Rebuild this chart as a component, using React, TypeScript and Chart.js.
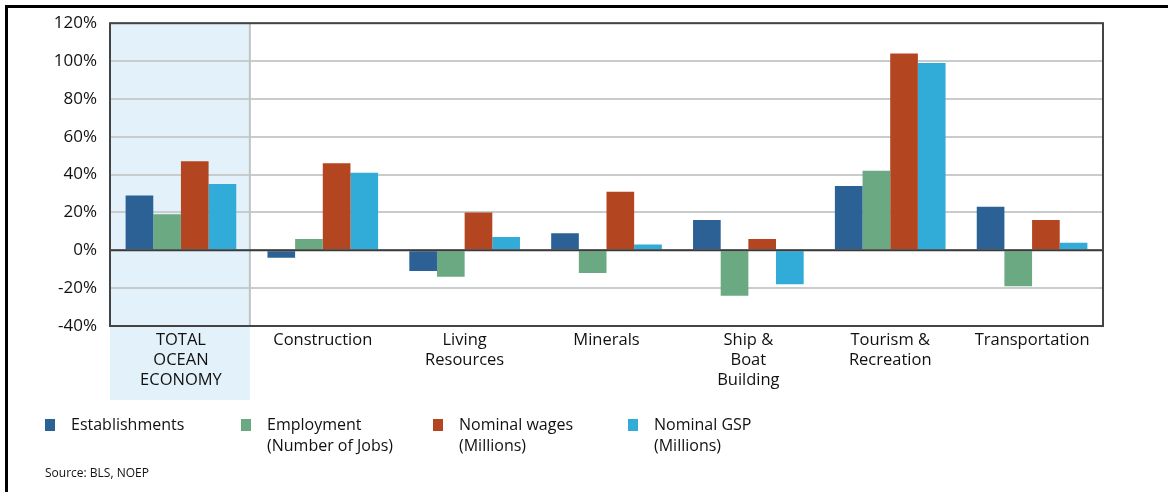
import React, { useEffect, useRef } from "react";
import { Chart, registerables } from "chart.js";

Chart.register(...registerables);

const categories: (string | string[])[] = [
  ["TOTAL", "OCEAN", "ECONOMY"],
  "Construction",
  ["Living", "Resources"],
  "Minerals",
  ["Ship &", "Boat", "Building"],
  ["Tourism &", "Recreation"],
  "Transportation",
];

const establishments = [29, -4, -11, 9, 16, 34, 23];
const employment = [19, 6, -14, -12, -24, 42, -19];
const nominalWages = [47, 46, 20, 31, 6, 104, 16];
const nominalGSP = [35, 41, 7, 3, -18, 99, 4];

const seriesLabels: string[][] = [
  ["Establishments"],
  ["Employment", "(Number of Jobs)"],
  ["Nominal wages", "(Millions)"],
  ["Nominal GSP", "(Millions)"],
];
const seriesColors = ["#2C6196", "#6AA982", "#B34521", "#31ABD8"];

const yMin = -40;
const yMax = 120;
const yStep = 20;

const FONT = "'Open Sans', 'Noto Sans', sans-serif";

const shadePlugin = {
  id: "shade",
  beforeDraw(chart: any) {
    const { ctx, chartArea } = chart;
    const w = (chartArea.right - chartArea.left) / categories.length;
    ctx.save();
    ctx.fillStyle = "#E3F2FA";
    ctx.fillRect(chartArea.left, chartArea.top, w - 2, chartArea.bottom - chartArea.top + 74);
    ctx.restore();
  },
  beforeDatasetsDraw(chart: any) {
    const { ctx, chartArea } = chart;
    const w = (chartArea.right - chartArea.left) / categories.length;
    ctx.save();
    ctx.strokeStyle = "#BFC3C4";
    ctx.lineWidth = 2;
    ctx.beginPath();
    ctx.moveTo(chartArea.left + w - 2, chartArea.top);
    ctx.lineTo(chartArea.left + w - 2, chartArea.bottom);
    ctx.stroke();
    ctx.restore();
  },
  afterDatasetsDraw(chart: any) {
    const { ctx, chartArea, scales } = chart;
    const y0 = scales.y.getPixelForValue(0);
    ctx.save();
    ctx.strokeStyle = "#3A3A3A";
    ctx.lineWidth = 2;
    ctx.beginPath();
    ctx.moveTo(chartArea.left, y0);
    ctx.lineTo(chartArea.right, y0);
    ctx.stroke();
    ctx.strokeStyle = "#444444";
    ctx.strokeRect(chartArea.left, chartArea.top, chartArea.right - chartArea.left, chartArea.bottom - chartArea.top);
    ctx.restore();
  },
};

export default function App() {
  const ref = useRef<HTMLCanvasElement | null>(null);

  useEffect(() => {
    if (!ref.current) return;
    const data = [establishments, employment, nominalWages, nominalGSP];
    const chart = new Chart(ref.current, {
      type: "bar",
      data: {
        labels: categories,
        datasets: data.map((d, i) => ({
          label: seriesLabels[i].join(" "),
          data: d,
          backgroundColor: seriesColors[i],
          borderWidth: 0,
          categoryPercentage: 0.78,
          barPercentage: 1.0,
        })),
      },
      options: {
        animation: false,
        responsive: false,
        maintainAspectRatio: false,
        layout: { padding: { top: 18, right: 65, left: 0, bottom: 0 } },
        plugins: {
          legend: { display: false },
          tooltip: { enabled: false },
          title: { display: false },
        },
        scales: {
          x: {
            grid: { display: false, drawTicks: false },
            border: { display: false },
            ticks: {
              color: "#111111",
              font: { family: FONT, size: 16.5, lineHeight: 1.22 },
              padding: 4,
              maxRotation: 0,
              autoSkip: false,
            },
            afterFit(scale: any) {
              scale.height = 166;
            },
          },
          y: {
            min: yMin,
            max: yMax,
            grid: { color: "#C8CCCC", lineWidth: 2, drawTicks: false },
            border: { display: false },
            ticks: {
              stepSize: yStep,
              color: "#111111",
              font: { family: FONT, size: 17 },
              padding: 13,
              callback: (v: any) => `${v}%`,
            },
            afterFit(scale: any) {
              scale.width = 110;
            },
          },
        },
      },
      plugins: [shadePlugin],
    });
    return () => chart.destroy();
  }, []);

  const legendX = [45, 241, 433, 628];

  return (
    <div style={{ position: "absolute", left: 0, top: 0, width: 1168, height: 492, background: "#fff", overflow: "hidden", fontFamily: FONT }}>
      <canvas ref={ref} width={1168} height={492} style={{ position: "absolute", left: 0, top: 0, width: 1168, height: 492 }} />
      <div style={{ position: "absolute", left: 5, top: 5, width: 1168, height: 492, borderTop: "3px solid #000", borderLeft: "3px solid #000", boxSizing: "border-box" }} />
      {seriesLabels.map((lines, i) => (
        <div key={i} style={{ position: "absolute", left: legendX[i], top: 414 }}>
          <div style={{ position: "absolute", left: 0, top: 5, width: 10, height: 12, background: seriesColors[i] }} />
          <div style={{ position: "absolute", left: 26, top: 0, whiteSpace: "nowrap", fontSize: 16, lineHeight: "21px", color: "#111111" }}>
            {lines.map((l, j) => (
              <div key={j}>{l}</div>
            ))}
          </div>
        </div>
      ))}
      <div style={{ position: "absolute", left: 45, top: 464, fontSize: 12, color: "#111111", whiteSpace: "nowrap" }}>Source: BLS, NOEP</div>
    </div>
  );
}
